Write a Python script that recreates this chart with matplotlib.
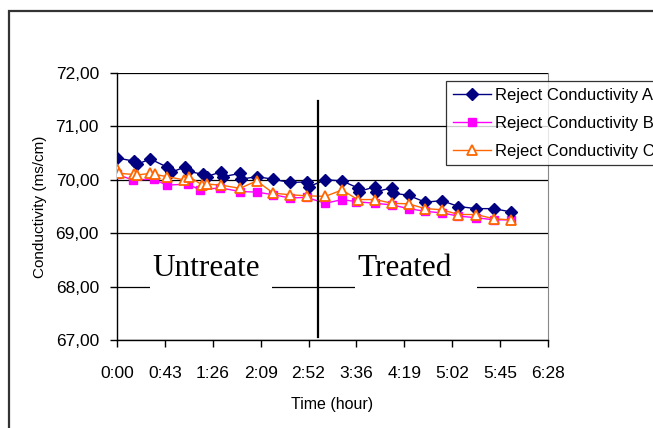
import matplotlib
matplotlib.use("Agg")
import matplotlib.pyplot as plt
from matplotlib.patches import Rectangle

# ---- data (time in minutes, conductivity in ms/cm) ----
time_a = [0, 15, 18, 30, 45, 49, 61, 64, 78, 81, 94, 96, 111, 112, 126, 141,
          156, 171, 173, 188, 203, 217, 218, 233, 234, 248, 249, 263, 278, 293,
          308, 324, 340, 355]
cond_a = [70.41, 70.35, 70.29, 70.39, 70.24, 70.14, 70.24, 70.16, 70.10, 70.06,
          70.15, 70.06, 70.12, 70.01, 70.06, 70.01, 69.95, 69.96, 69.87, 70.00,
          69.98, 69.85, 69.78, 69.87, 69.78, 69.85, 69.75, 69.71, 69.58, 69.61,
          69.50, 69.46, 69.46, 69.40]

time_b = [0, 14, 33, 45, 64, 75, 93, 111, 126, 141, 156, 171, 188, 203, 216,
          233, 248, 263, 278, 293, 308, 324, 340, 355]
cond_b = [70.10, 70.00, 70.01, 69.90, 69.92, 69.81, 69.85, 69.78, 69.77, 69.72,
          69.66, 69.67, 69.56, 69.63, 69.59, 69.56, 69.53, 69.46, 69.41, 69.38,
          69.32, 69.29, 69.25, 69.25]

time_c = [0, 2, 15, 18, 30, 34, 45, 60, 65, 77, 81, 94, 111, 126, 141, 156,
          171, 188, 203, 217, 233, 248, 263, 278, 293, 308, 324, 340, 355]
cond_c = [70.21, 70.12, 70.10, 70.09, 70.12, 70.10, 70.06, 70.00, 70.06, 69.90,
          69.92, 69.90, 69.84, 69.98, 69.75, 69.72, 69.70, 69.69, 69.81, 69.63,
          69.63, 69.56, 69.55, 69.46, 69.44, 69.35, 69.35, 69.27, 69.25]

series_names = ["Reject Conductivity A", "Reject Conductivity B", "Reject Conductivity C"]

x_ticks = [0, 43.2, 86.4, 129.6, 172.8, 216.0, 259.2, 302.4, 345.6, 388.8]
x_tick_labels = ["0:00", "0:43", "1:26", "2:09", "2:52", "3:36", "4:19", "5:02", "5:45", "6:28"]
y_ticks = [67, 68, 69, 70, 71, 72]
y_tick_labels = ["67,00", "68,00", "69,00", "70,00", "71,00", "72,00"]

divider_time = 181.0
phase_labels = ["Untreate", "Treated"]

# ---- figure ----
W, H = 653, 428
fig = plt.figure(figsize=(W / 100, H / 100), dpi=100)
plt.rcParams['font.family'] = ['Liberation Sans', 'DejaVu Sans']

left, right, top, bottom = 117, 548, 73, 340
ax = fig.add_axes([left / W, 1 - bottom / H, (right - left) / W, (bottom - top) / H])

ax.set_xlim(0, 388.8)
ax.set_ylim(67, 72)

ax.plot(time_a, cond_a, color="#000080", marker="D", markersize=6, lw=1.0,
        label=series_names[0], zorder=5)
ax.plot(time_b, cond_b, color="#FF00FF", marker="s", markersize=5.5, lw=1.0,
        label=series_names[1], zorder=4)
ax.plot(time_c, cond_c, color="#FF6600", marker="^", markersize=7.5, lw=1.0,
        markerfacecolor="white", markeredgewidth=1.3, label=series_names[2], zorder=6)

ax.set_xticks(x_ticks)
ax.set_xticklabels(x_tick_labels, fontsize=12.5)
ax.set_yticks(y_ticks)
ax.set_yticklabels(y_tick_labels, fontsize=12.5)
ax.tick_params(axis="both", direction="out", length=5, width=1, color="black")
ax.tick_params(axis="y", pad=8)
ax.tick_params(axis="x", pad=14)

ax.yaxis.grid(True, color="black", lw=0.9)
ax.set_axisbelow(True)
for s in ["left", "bottom"]:
    ax.spines[s].set_color("black")
    ax.spines[s].set_linewidth(1.0)
ax.spines["top"].set_visible(False)
ax.spines["right"].set_color("#888888")

ax.set_xlabel("Time (hour)", fontsize=11.5, labelpad=11)
ax.set_ylabel("Conductivity (ms/cm)", fontsize=11, labelpad=6)

# treatment divider
ax.plot([divider_time, divider_time], [67.06, 71.48], color="black", lw=1.6,
        clip_on=False, zorder=7)

# phase text boxes (white background over gridline)
ax.add_patch(Rectangle((30, 67.75), 110, 0.55, facecolor="white", edgecolor="none", zorder=3))
ax.add_patch(Rectangle((215, 67.75), 110, 0.55, facecolor="white", edgecolor="none", zorder=3))
ax.text(31.5, 68.2, phase_labels[0], family="Liberation Serif", fontsize=22.5,
        va="baseline", ha="left", zorder=4)
ax.text(217, 68.2, phase_labels[1], family="Liberation Serif", fontsize=22.5,
        va="baseline", ha="left", zorder=4)

# legend (extends beyond the right edge like the reference)
leg = fig.legend(loc="upper left", bbox_to_anchor=(446 / W, 1 - 81 / H),
                 fontsize=12, frameon=True, fancybox=False, handlelength=2.3,
                 borderpad=0.4, labelspacing=0.78, handletextpad=0.25,
                 borderaxespad=0)
leg.get_frame().set_edgecolor("black")
leg.get_frame().set_linewidth(0.9)

# outer chart border
fig.add_artist(Rectangle((9 / W, -0.05), 1.2, 1 - 11 / H + 0.05, transform=fig.transFigure,
                         facecolor="none", edgecolor="#333333", lw=1.6))

fig.savefig("out.png", dpi=100)
